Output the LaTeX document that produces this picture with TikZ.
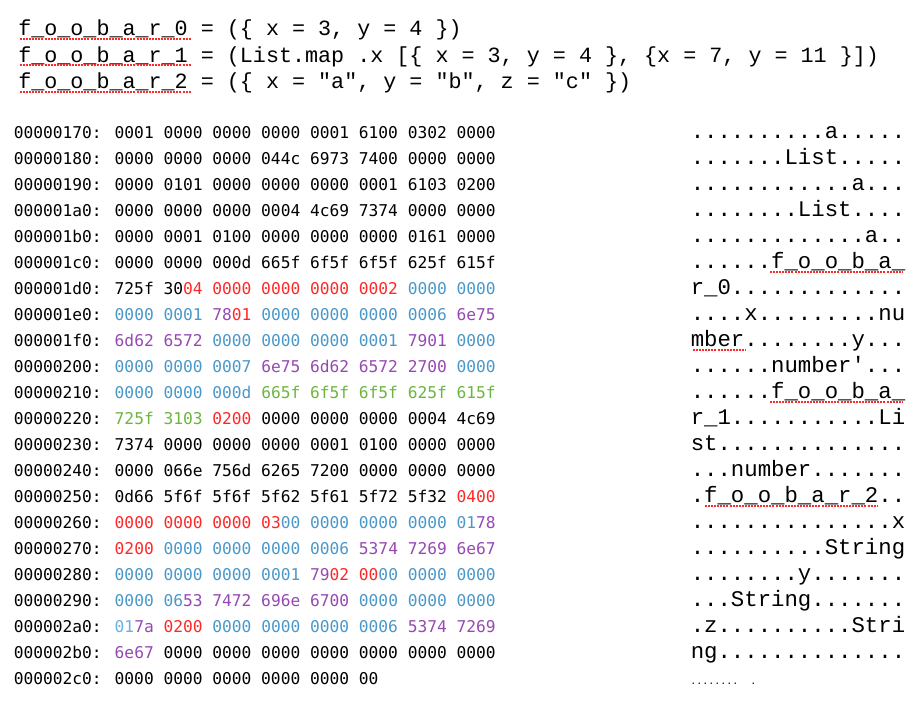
\documentclass[tikz,border=0pt]{standalone}
\usepackage{fontspec}
\usepackage{xcolor}
\newfontfamily\hexfont{DejaVu Sans Mono}
\newfontfamily\codefont{Liberation Mono}
\definecolor{dumpred}{RGB}{255,40,40}
\definecolor{dumpblue}{RGB}{74,152,201}
\definecolor{dumplblue}{RGB}{104,178,226}
\definecolor{dumppurple}{RGB}{150,73,178}
\definecolor{dumpgreen}{RGB}{108,182,62}
\newcommand{\hxred}[1]{\textcolor{dumpred}{#1}}
\newcommand{\hxblu}[1]{\textcolor{dumpblue}{#1}}
\newcommand{\hxlbl}[1]{\textcolor{dumplblue}{#1}}
\newcommand{\hxpur}[1]{\textcolor{dumppurple}{#1}}
\newcommand{\hxgrn}[1]{\textcolor{dumpgreen}{#1}}
\tikzset{
  codeline/.style={anchor=base west, inner sep=0pt, font=\codefont\fontsize{16.3}{18}\selectfont},
  hexline/.style={anchor=base west, inner sep=0pt, font=\hexfont\fontsize{12.17}{14}\selectfont},
  ascline/.style={anchor=base west, inner sep=0pt, font=\codefont\fontsize{16.75}{18}\selectfont},
  spell/.style={dumpred, line width=1.5pt, dash pattern=on 1.5pt off 0.8pt}
}
\begin{document}
\begin{tikzpicture}[x=0.75pt,y=0.75pt,yscale=-1,xscale=1]
\useasboundingbox (0,0) rectangle (918,710);

%Text Node: source lines
\draw (18,36) node [codeline] (code0) {f\_o\_o\_b\_a\_r\_0 = (\{ x = 3, y = 4 \})};
\draw (18,62.5) node [codeline] (code1) {f\_o\_o\_b\_a\_r\_1 = (List.map .x [\{ x = 3, y = 4 \}, \{x = 7, y = 11 \}])};
\draw (18,89) node [codeline] (code2) {f\_o\_o\_b\_a\_r\_2 = (\{ x = \textquotedbl a\textquotedbl, y = \textquotedbl b\textquotedbl, z = \textquotedbl c\textquotedbl\ \})};
%Spell marks
\draw [spell] (20,39) -- (191,39) ;
\draw [spell] (20,65.5) -- (191,65.5) ;
\draw [spell] (20,92) -- (191,92) ;

%Text Node: hex dump
\draw (13.5,138.5) node [hexline] (hex170) {00000170: 0001 0000 0000 0000 0001 6100 0302 0000};
\draw (13.5,164.5) node [hexline] (hex180) {00000180: 0000 0000 0000 044c 6973 7400 0000 0000};
\draw (13.5,190.5) node [hexline] (hex190) {00000190: 0000 0101 0000 0000 0000 0001 6103 0200};
\draw (13.5,216.5) node [hexline] (hex1a0) {000001a0: 0000 0000 0000 0004 4c69 7374 0000 0000};
\draw (13.5,242.5) node [hexline] (hex1b0) {000001b0: 0000 0001 0100 0000 0000 0000 0161 0000};
\draw (13.5,268.5) node [hexline] (hex1c0) {000001c0: 0000 0000 000d 665f 6f5f 6f5f 625f 615f};
\draw (13.5,294.5) node [hexline] (hex1d0) {000001d0: 725f 30\hxred{04 0000 0000 0000 0002} \hxblu{0000 0000}};
\draw (13.5,320.5) node [hexline] (hex1e0) {000001e0: \hxblu{0000 0001} \hxpur{78}\hxred{01} \hxblu{0000 0000 0000 0006} \hxpur{6e75}};
\draw (13.5,346.5) node [hexline] (hex1f0) {000001f0: \hxpur{6d62 6572} \hxblu{0000 0000 0000 0001} \hxpur{7901} \hxblu{0000}};
\draw (13.5,372.5) node [hexline] (hex200) {00000200: \hxblu{0000 0000 0007} \hxpur{6e75 6d62 6572 2700} \hxblu{0000}};
\draw (13.5,398.5) node [hexline] (hex210) {00000210: \hxblu{0000 0000 000d} \hxgrn{665f 6f5f 6f5f 625f 615f}};
\draw (13.5,424.5) node [hexline] (hex220) {00000220: \hxgrn{725f 3103} \hxred{0200} 0000 0000 0000 0004 4c69};
\draw (13.5,450.5) node [hexline] (hex230) {00000230: 7374 0000 0000 0000 0001 0100 0000 0000};
\draw (13.5,476.5) node [hexline] (hex240) {00000240: 0000 066e 756d 6265 7200 0000 0000 0000};
\draw (13.5,502.5) node [hexline] (hex250) {00000250: 0d66 5f6f 5f6f 5f62 5f61 5f72 5f32 \hxred{0400}};
\draw (13.5,528.5) node [hexline] (hex260) {00000260: \hxred{0000 0000 0000 03}\hxblu{00 0000 0000 0000 01}\hxpur{78}};
\draw (13.5,554.5) node [hexline] (hex270) {00000270: \hxred{0200} \hxblu{0000 0000 0000 0006} \hxpur{5374 7269 6e67}};
\draw (13.5,580.5) node [hexline] (hex280) {00000280: \hxblu{0000 0000 0000 0001} \hxpur{79}\hxred{02 00}\hxblu{00 0000 0000}};
\draw (13.5,606.5) node [hexline] (hex290) {00000290: \hxblu{0000 06}\hxpur{53 7472 696e 6700} \hxblu{0000 0000 0000}};
\draw (13.5,632.5) node [hexline] (hex2a0) {000002a0: \hxlbl{01}\hxpur{7a} \hxred{0200} \hxblu{0000 0000 0000 0006} \hxpur{5374 7269}};
\draw (13.5,658.5) node [hexline] (hex2b0) {000002b0: \hxpur{6e67} 0000 0000 0000 0000 0000 0000 0000};
\draw (13.5,684.5) node [hexline] (hex2c0) {000002c0: 0000 0000 0000 0000 0000 00};

%Text Node: ascii column
\draw (690.5,138.5) node [ascline] (asc170) {..........a.....};
\draw (690.5,164.5) node [ascline] (asc180) {.......List.....};
\draw (690.5,190.5) node [ascline] (asc190) {............a...};
\draw (690.5,216.5) node [ascline] (asc1a0) {........List....};
\draw (690.5,242.5) node [ascline] (asc1b0) {.............a..};
\draw (690.5,268.5) node [ascline] (asc1c0) {......f\_o\_o\_b\_a\_};
\draw (690.5,294.5) node [ascline] (asc1d0) {r\_0.............};
\draw (690.5,320.5) node [ascline] (asc1e0) {....x.........nu};
\draw (690.5,346.5) node [ascline] (asc1f0) {mber........y...};
\draw (690.5,372.5) node [ascline] (asc200) {......number\textquotesingle...};
\draw (690.5,398.5) node [ascline] (asc210) {......f\_o\_o\_b\_a\_};
\draw (690.5,424.5) node [ascline] (asc220) {r\_1...........Li};
\draw (690.5,450.5) node [ascline] (asc230) {st..............};
\draw (690.5,476.5) node [ascline] (asc240) {...number.......};
\draw (690.5,502.5) node [ascline] (asc250) {.f\_o\_o\_b\_a\_r\_2..};
\draw (690.5,528.5) node [ascline] (asc260) {...............x};
\draw (690.5,554.5) node [ascline] (asc270) {..........String};
\draw (690.5,580.5) node [ascline] (asc280) {........y.......};
\draw (690.5,606.5) node [ascline] (asc290) {...String.......};
\draw (690.5,632.5) node [ascline] (asc2a0) {.z..........Stri};
\draw (690.5,658.5) node [ascline] (asc2b0) {ng..............};
\draw (690,684.5) node [anchor=base west, inner sep=0pt, font=\codefont\fontsize{7.5}{8}\selectfont] (asc2c0) {........\ \ .};
%Spell marks
\draw [spell] (770,272) -- (902,272) ;
\draw [spell] (693,350) -- (746,350) ;
\draw [spell] (770,402) -- (902,402) ;
\draw [spell] (705,506) -- (878,506) ;
\end{tikzpicture}
\end{document}
